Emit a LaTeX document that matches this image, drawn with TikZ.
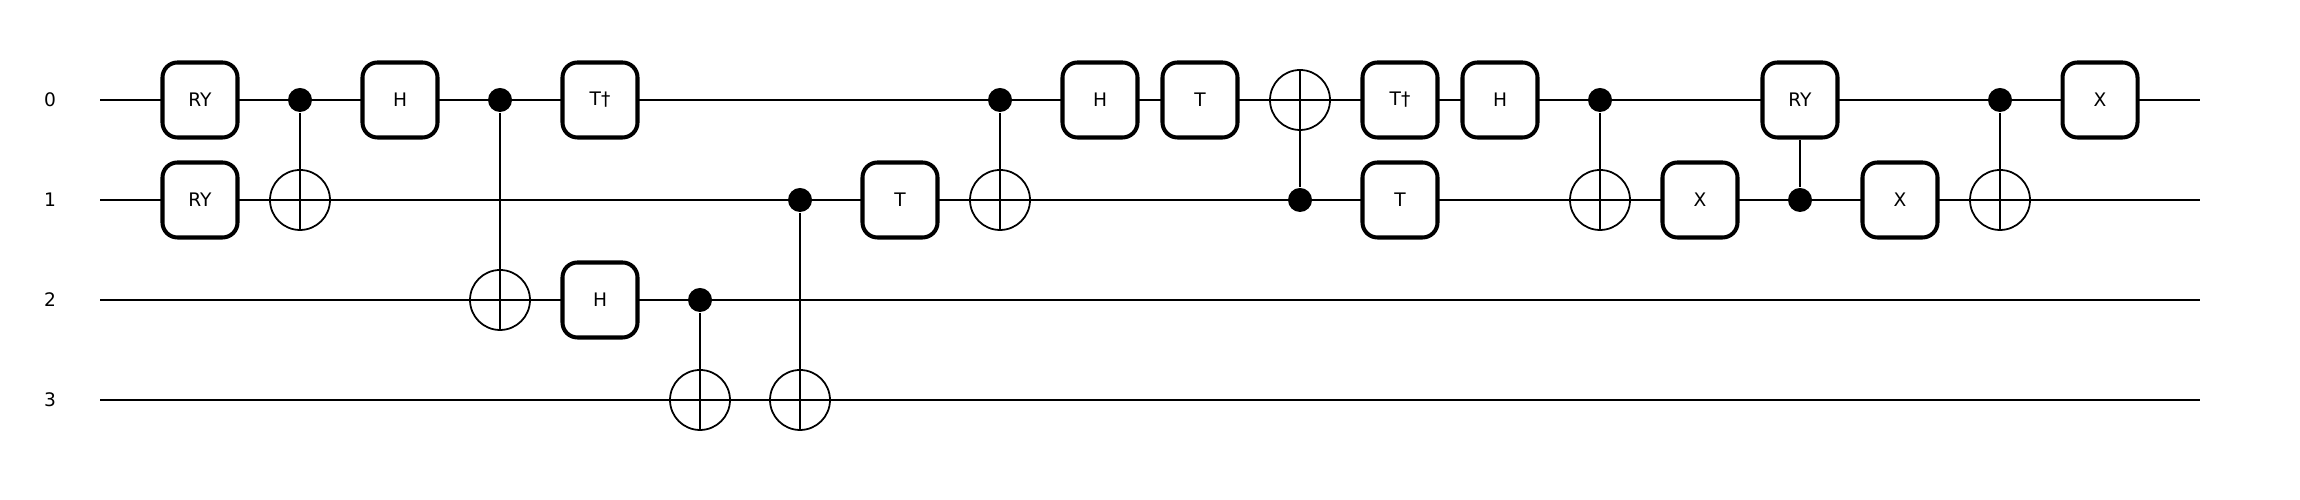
\documentclass[tikz,border=0pt]{standalone}
\usepackage{fontspec}
\setmainfont{DejaVu Sans}
\usepackage{tikz}
\usetikzlibrary{positioning}

\begin{document}
\begin{tikzpicture}[font=\fontsize{5.3}{6.3}\selectfont,every path/.style={line width=0.57pt},
	gatebox/.style={draw,fill=white,line width=1.15pt,rounded corners=0.15cm,minimum size=0.75cm,inner sep=0pt},
	ctrldot/.style={circle,fill=black,minimum size=0.24cm,inner sep=0pt},
	targetring/.style={draw,circle,minimum size=0.6cm,inner sep=0pt,line width=0.5pt},
	qlabel/.style={inner sep=0pt}]
	\useasboundingbox (0,0) rectangle (23,5);

	\node[qlabel] (q0) at (0.5,4) {0};
	\node[qlabel] (q1) at (0.5,3) {1};
	\node[qlabel] (q2) at (0.5,2) {2};
	\node[qlabel] (q3) at (0.5,1) {3};

	\coordinate (start0) at (1,4);
	\coordinate (start1) at (1,3);
	\coordinate (start2) at (1,2);
	\coordinate (start3) at (1,1);
	\coordinate (stop0) at (22,4);
	\coordinate (stop1) at (22,3);
	\coordinate (stop2) at (22,2);
	\coordinate (stop3) at (22,1);

	\draw (start0) -- (stop0);
	\draw (start1) -- (stop1);
	\draw (start2) -- (stop2);
	\draw (start3) -- (stop3);

	\node (ry0) at (2,4) [gatebox] {RY};
	\node (ry1) at (2,3) [gatebox] {RY};

	\node (ctrla) at (3,4) [ctrldot] {};
	\node (tgta) at (3,3) [targetring] {};
	\draw (ctrla) -- (tgta.south);

	\node (ha) at (4,4) [gatebox] {H};

	\node (ctrlb) at (5,4) [ctrldot] {};
	\node (tgtb) at (5,2) [targetring] {};
	\draw (ctrlb) -- (tgtb.south);

	\node (tdga) at (6,4) [gatebox] {T†};
	\node (hb) at (6,2) [gatebox] {H};

	\node (ctrlc) at (7,2) [ctrldot] {};
	\node (tgtc) at (7,1) [targetring] {};
	\draw (ctrlc) -- (tgtc.south);

	\node (ctrld) at (8,3) [ctrldot] {};
	\node (tgtd) at (8,1) [targetring] {};
	\draw (ctrld) -- (tgtd.south);

	\node (ta) at (9,3) [gatebox] {T};

	\node (ctrle) at (10,4) [ctrldot] {};
	\node (tgte) at (10,3) [targetring] {};
	\draw (ctrle) -- (tgte.south);

	\node (hc) at (11,4) [gatebox] {H};
	\node (tb) at (12,4) [gatebox] {T};

	\node (ctrlf) at (13,3) [ctrldot] {};
	\node (tgtf) at (13,4) [targetring] {};
	\draw (ctrlf) -- (tgtf.north);

	\node (tdgb) at (14,4) [gatebox] {T†};
	\node (tc) at (14,3) [gatebox] {T};
	\node (hd) at (15,4) [gatebox] {H};

	\node (ctrlg) at (16,4) [ctrldot] {};
	\node (tgtg) at (16,3) [targetring] {};
	\draw (ctrlg) -- (tgtg.south);

	\node (xa) at (17,3) [gatebox] {X};

	\node (ctrlh) at (18,3) [ctrldot] {};
	\node (ry2) at (18,4) [gatebox] {RY};
	\draw (ctrlh) -- (ry2);

	\node (xb) at (19,3) [gatebox] {X};

	\node (ctrli) at (20,4) [ctrldot] {};
	\node (tgti) at (20,3) [targetring] {};
	\draw (ctrli) -- (tgti.south);

	\node (xc) at (21,4) [gatebox] {X};
\end{tikzpicture}
\end{document}
